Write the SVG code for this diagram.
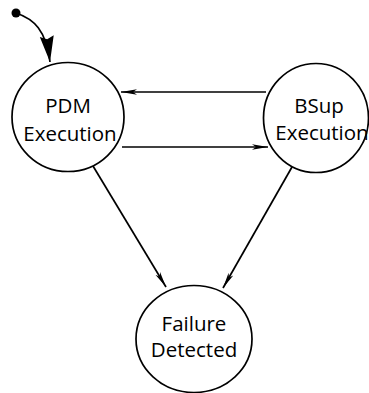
<svg xmlns="http://www.w3.org/2000/svg" width="369" height="393" viewBox="0 0 369 393">
  <style>
    .state { fill: #fff; stroke: #000; stroke-width: 1.7; }
    .label { font-family: "Open Sans", "Liberation Sans", sans-serif; font-size: 20.5px; font-weight: 500; fill: #000; text-anchor: middle; }
    .edge { fill: none; stroke: #000; stroke-width: 1.7; }
  </style>
  <defs>
    <marker id="arrow" markerUnits="userSpaceOnUse" markerWidth="20" markerHeight="10" refX="16" refY="5" orient="auto">
      <path d="M16,5 L0,2.3 L4,5 L0,7.7 Z" fill="#000"/>
    </marker>
    <marker id="arrow-big" markerUnits="userSpaceOnUse" markerWidth="28" markerHeight="16" refX="26" refY="8" orient="auto">
      <path d="M26,8 L0,1 L3,8 L0,15 Z" fill="#000"/>
    </marker>
  </defs>

  <!-- transitions -->
  <g id="connectors">
    <circle cx="16" cy="13" r="4.5" fill="#000"/>
    <path class="edge" d="M16,13 C34,19 46,30 50,62" marker-end="url(#arrow-big)"/>
    <line class="edge" x1="266" y1="92" x2="121" y2="92" marker-end="url(#arrow)"/>
    <line class="edge" x1="122" y1="147" x2="268" y2="147" marker-end="url(#arrow)"/>
    <line class="edge" x1="93" y1="166" x2="166" y2="287" marker-end="url(#arrow)"/>
    <line class="edge" x1="292" y1="167" x2="223" y2="288" marker-end="url(#arrow)"/>
  </g>

  <!-- states -->
  <g id="pdm-execution">
    <ellipse class="state" cx="68" cy="117" rx="56" ry="54.5"/>
    <text class="label" x="68" y="113">PDM</text>
    <text class="label" x="70" y="141">Execution</text>
  </g>
  <g id="bsup-execution">
    <ellipse class="state" cx="316" cy="118" rx="52.5" ry="54.5"/>
    <text class="label" x="319" y="113">BSup</text>
    <text class="label" x="322" y="140">Execution</text>
  </g>
  <g id="failure-detected">
    <ellipse class="state" cx="194" cy="339" rx="58" ry="53.5"/>
    <text class="label" x="194" y="331">Failure</text>
    <text class="label" x="194" y="357">Detected</text>
  </g>
</svg>
